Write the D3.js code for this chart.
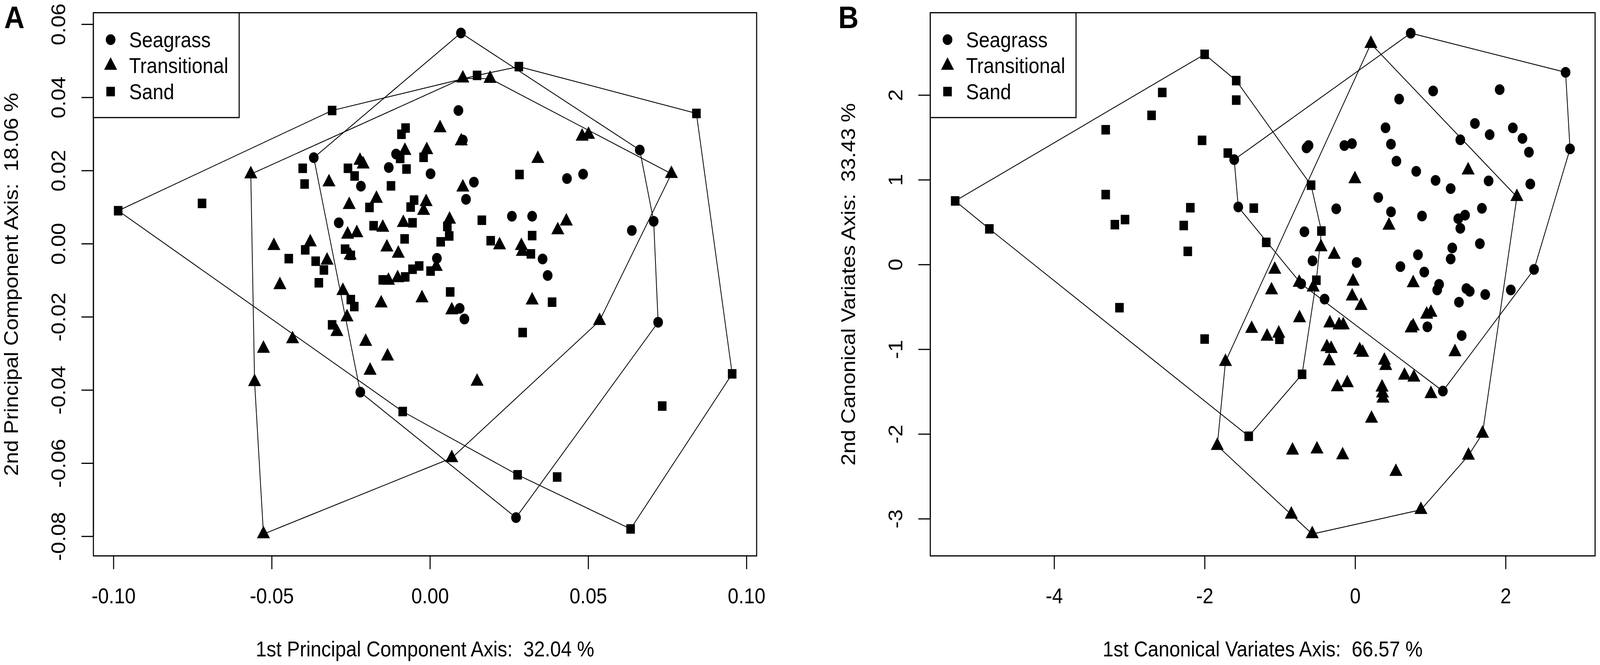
<!DOCTYPE html>
<html><head><meta charset="utf-8">
<script src="https://cdn.jsdelivr.net/npm/d3@7"></script>
<style>
html,body{margin:0;padding:0;background:#fff;width:100%;height:100%;overflow:hidden}
svg{display:block;width:100vw;height:100vh}
text{font-family:"Liberation Sans",Arial,Helvetica,sans-serif;fill:#000;white-space:pre}
</style>
</head><body>
<svg id="chart" viewBox="0 0 4550 1703" preserveAspectRatio="none"></svg>
<script>
// ---------------- DATA ----------------
const groups = ["Seagrass", "Transitional", "Sand"];

// Panel A: PCA scores [PC1, PC2]
const pcaSeagrass = [
  [0.0098,0.0576],[0.0090,0.0364],[0.0104,0.0283],[-0.0367,0.0235],[-0.0130,0.0208],[-0.0107,0.0245],
  [0.0002,0.0191],[0.0139,0.0168],[0.0114,0.0121],[-0.0218,0.0157],[-0.0288,0.0057],[0.0022,-0.0040],
  [0.0094,-0.0177],[0.0109,-0.0206],[0.0259,0.0075],[0.0323,0.0075],[0.0433,0.0178],[0.0484,0.0190],
  [0.0663,0.0256],[0.0638,0.0036],[0.0707,0.0061],[0.0721,-0.0215],[0.0356,-0.0042],[0.0372,-0.0087],
  [-0.0220,-0.0406],[0.0272,-0.0749]
];
const pcaTransitional = [
  [0.0104,0.0452],[0.0190,0.0451],[0.0481,0.0293],[0.0501,0.0298],[0.0341,0.0232],[0.0763,0.0191],
  [0.0431,0.0061],[0.0404,0.0037],[0.0220,-0.0004],[0.0289,-0.0006],[0.0292,-0.0022],[0.0323,-0.0155],
  [0.0536,-0.0211],[0.0149,-0.0377],[0.0069,-0.0586],[-0.0554,-0.0378],[-0.0526,-0.0794],[-0.0189,-0.0347],
  [-0.0566,0.0190],[0.0032,0.0316],[0.0099,0.0280],[-0.0079,0.0254],[-0.0010,0.0256],[-0.0221,0.0227],
  [-0.0211,0.0217],[-0.0319,0.0168],[0.0104,0.0154],[-0.0169,0.0123],[-0.0255,0.0106],[-0.0012,0.0114],
  [-0.0020,0.0090],[-0.0084,0.0057],[-0.0149,0.0044],[0.0062,0.0066],[-0.0260,0.0025],[-0.0231,0.0029],
  [-0.0493,-0.0006],[-0.0378,0.0004],[-0.0136,-0.0010],[-0.0100,-0.0027],[-0.0325,-0.0046],[-0.0252,-0.0032],
  [-0.0474,-0.0113],[-0.0131,-0.0101],[-0.0102,-0.0094],[0.0020,-0.0063],[-0.0275,-0.0129],[-0.0154,-0.0163],
  [-0.0025,-0.0149],[0.0069,-0.0182],[-0.0262,-0.0201],[-0.0434,-0.0261],[-0.0526,-0.0287],[-0.0294,-0.0241],
  [-0.0203,-0.0268],[-0.0134,-0.0308]
];
const pcaSand = [
  [-0.0985,0.0090],[-0.0720,0.0110],[0.0149,0.0460],[0.0281,0.0484],[0.0842,0.0356],[0.0283,0.0189],
  [0.0164,0.0064],[0.0192,0.0008],[0.0323,0.0022],[0.0319,-0.0028],[0.0386,-0.0160],[0.0293,-0.0243],
  [0.0734,-0.0444],[0.0955,-0.0356],[0.0634,-0.0780],[0.0277,-0.0632],[0.0402,-0.0638],[-0.0086,-0.0459],
  [-0.0309,0.0364],[-0.0077,0.0316],[-0.0090,0.0299],[-0.0402,0.0206],[-0.0396,0.0163],[-0.0259,0.0206],
  [-0.0238,0.0185],[-0.0020,0.0236],[-0.0094,0.0233],[-0.0074,0.0204],[-0.0123,0.0158],[-0.0191,0.0099],
  [-0.0050,0.0119],[-0.0061,0.0100],[-0.0178,0.0049],[-0.0055,0.0057],[0.0055,0.0047],[0.0061,0.0021],
  [0.0034,0.0005],[-0.0080,0.0013],[-0.0268,-0.0015],[-0.0250,-0.0032],[-0.0394,-0.0017],[-0.0446,-0.0041],
  [-0.0361,-0.0048],[-0.0335,-0.0072],[-0.0351,-0.0107],[-0.0149,-0.0099],[-0.0078,-0.0091],[-0.0055,-0.0070],
  [-0.0034,-0.0061],[0.0002,-0.0075],[0.0064,-0.0132],[-0.0250,-0.0153],[-0.0239,-0.0172],[-0.0309,-0.0222]
];

// Panel B: canonical variate scores [CV1, CV2]
const cvaSeagrass = [
  [0.739,2.730],[2.797,2.268],[2.856,1.364],[1.921,2.064],[1.037,2.048],[0.585,1.952],[0.404,1.613],
  [0.476,1.420],[0.549,1.219],[1.592,1.664],[1.788,1.532],[2.096,1.612],[2.224,1.487],[2.310,1.325],
  [1.398,1.471],[0.812,1.099],[1.069,0.992],[1.270,0.895],[1.774,0.986],[2.328,0.950],[0.477,0.621],
  [0.889,0.572],[1.685,0.663],[1.461,0.582],[1.371,0.540],[1.398,0.427],[1.291,0.195],[1.270,0.065],
  [1.658,0.246],[0.835,0.114],[0.602,-0.025],[0.919,-0.090],[1.116,-0.235],[1.091,-0.300],[1.479,-0.284],
  [1.523,-0.316],[1.729,-0.355],[2.069,-0.300],[2.378,-0.058],[1.380,-0.445],[0.960,-0.736],[1.416,-0.839],
  [1.166,-1.494],[-1.607,1.237],[-1.553,0.679],[-0.646,1.376],[-0.619,1.404],[-0.143,1.404],[-0.042,1.426],
  [0.307,0.791],[-0.251,0.657],[-0.674,0.386],[-0.566,0.043],[0.020,0.023],[-0.717,-0.228],[-0.406,-0.409]
];
const cvaTransitional = [
  [0.210,2.605],[1.502,1.112],[2.150,0.798],[-0.003,1.008],[0.450,0.460],[-0.453,0.205],[-0.278,0.116],
  [-1.068,-0.060],[-1.111,-0.303],[-0.743,-0.214],[-0.557,-0.269],[-0.027,-0.200],[-0.039,-0.376],[0.079,-0.487],
  [-0.739,-0.632],[-1.375,-0.758],[-1.170,-0.850],[-1.015,-0.814],[-0.336,-0.693],[-0.213,-0.716],[-0.158,-0.716],
  [-0.375,-0.975],[-0.318,-0.995],[-0.344,-1.140],[0.060,-1.010],[0.100,-1.040],[0.389,-1.134],[0.407,-1.196],
  [-0.236,-1.447],[-0.104,-1.399],[0.358,-1.450],[0.364,-1.520],[0.370,-1.580],[-1.723,-1.148],[-1.832,-2.139],
  [-0.832,-2.194],[-0.507,-2.181],[-0.166,-2.250],[0.218,-1.818],[0.542,-2.446],[0.772,-0.219],[0.951,-0.590],
  [1.008,-0.568],[0.745,-0.752],[0.772,-0.729],[1.327,-1.033],[0.656,-1.310],[0.781,-1.333],[1.008,-1.527],
  [1.693,-1.995],[1.506,-2.254],[0.874,-2.895],[-0.570,-3.181],[-0.848,-2.950]
];
const cvaSand = [
  [-5.315,0.750],[-4.861,0.420],[-2.000,2.480],[-1.580,2.170],[-1.580,1.940],[-2.563,2.030],[-2.705,1.760],
  [-3.315,1.590],[-2.034,1.465],[-1.692,1.315],[-0.585,0.936],[-1.347,0.665],[-2.190,0.670],[-2.278,0.460],
  [-2.224,0.155],[-3.315,0.825],[-3.193,0.470],[-3.058,0.530],[-3.132,-0.510],[-2.000,-0.880],[-1.181,0.261],
  [-0.448,0.395],[-0.515,-0.186],[-0.705,-1.296],[-1.414,-2.027],[-1.006,-0.883]
];

// axis ticks and limits
const pcaXTicks = [-0.10, -0.05, 0.00, 0.05, 0.10];
const pcaYTicks = [-0.08, -0.06, -0.04, -0.02, 0.00, 0.02, 0.04, 0.06];
const cvaXTicks = [-4, -2, 0, 2];
const cvaYTicks = [-3, -2, -1, 0, 1, 2];
const pcaXLim = [-0.10633, 0.10323];
const pcaYLim = [-0.08537, 0.06313];
const cvaXLim = [-5.646, 3.189];
const cvaYLim = [-3.439, 2.971];

// ---------------- DRAW ----------------
const svg = d3.select("#chart");
const FS = 55;
const symTypes = {Seagrass: d3.symbolCircle, Transitional: d3.symbolTriangle, Sand: d3.symbolSquare};
const SYM_SIZE = 595;

function hyphen(s){ return s.replace(/\u2212/g, "-"); }

function panel(cfg){
  const g = svg.append("g");
  const x = d3.scaleLinear().domain(cfg.xlim).range([cfg.l, cfg.r]);
  const y = d3.scaleLinear().domain(cfg.ylim).range([cfg.b, cfg.t]);

  // points
  cfg.sets.forEach((pts, i) => {
    const sym = d3.symbol().type(symTypes[groups[i]]).size(SYM_SIZE);
    g.append("g").selectAll("path").data(pts).join("path")
      .attr("d", sym)
      .attr("transform", d => `translate(${x(d[0])},${y(d[1])})`)
      .attr("fill", "#000");
  });

  // convex hulls
  cfg.sets.forEach(pts => {
    const hull = d3.polygonHull(pts.map(d => [x(d[0]), y(d[1])]));
    g.append("path")
      .attr("d", "M" + hull.map(p => p.join(",")).join("L") + "Z")
      .attr("fill", "none").attr("stroke", "#000").attr("stroke-width", 2.2)
      .attr("stroke-linejoin", "round");
  });

  // box
  g.append("rect").attr("x", cfg.l).attr("y", cfg.t)
    .attr("width", cfg.r - cfg.l).attr("height", cfg.b - cfg.t)
    .attr("fill", "none").attr("stroke", "#000").attr("stroke-width", 3);

  // axes
  const xAxis = d3.axisBottom(x).tickValues(cfg.xticks).tickSize(34).tickPadding(0)
    .tickFormat(d => hyphen(cfg.xfmt(d)));
  const ax = g.append("g").attr("transform", `translate(0,${cfg.b})`).call(xAxis);
  ax.select(".domain").attr("d", `M${x(cfg.xticks[0])},0H${x(cfg.xticks[cfg.xticks.length-1])}`)
    .attr("stroke-width", 3);
  ax.selectAll(".tick line").attr("stroke-width", 3);
  ax.selectAll(".tick text").attr("y", 121).attr("dy", null)
    .style("font-size", FS + "px").style("font-family", '"Liberation Sans",Arial,sans-serif');

  const yAxis = d3.axisLeft(y).tickValues(cfg.yticks).tickSize(34)
    .tickFormat(d => hyphen(cfg.yfmt(d)));
  const ay = g.append("g").attr("transform", `translate(${cfg.l},0)`).call(yAxis);
  ay.select(".domain").attr("d", `M0,${y(cfg.yticks[0])}V${y(cfg.yticks[cfg.yticks.length-1])}`)
    .attr("stroke-width", 3);
  ay.selectAll(".tick line").attr("stroke-width", 3);
  ay.selectAll(".tick text")
    .attr("x", null).attr("dy", null)
    .attr("text-anchor", "middle")
    .attr("transform", "translate(-80,0) rotate(-90)")
    .style("font-size", FS + "px").style("font-family", '"Liberation Sans",Arial,sans-serif');

  // axis titles
  g.append("text").attr("x", (cfg.l + cfg.r) / 2).attr("y", 1681)
    .attr("text-anchor", "middle").style("font-size", FS + "px").text(cfg.xtitle);
  g.append("text")
    .attr("transform", `translate(${cfg.l - 214},${(cfg.t + cfg.b) / 2}) rotate(-90)`)
    .attr("text-anchor", "middle").style("font-size", FS + "px").text(cfg.ytitle);

  // panel letter
  g.append("text").attr("x", cfg.letterX).attr("y", 72)
    .style("font-size", "80px").style("font-weight", "bold").text(cfg.letter);

  // legend
  const lg = g.append("g");
  lg.append("rect").attr("x", cfg.l).attr("y", cfg.t).attr("width", 414.5).attr("height", 268.5)
    .attr("fill", "#fff").attr("stroke", "#000").attr("stroke-width", 3);
  groups.forEach((name, i) => {
    const cy = 101.5 + i * 66.5;
    lg.append("path").attr("d", d3.symbol().type(symTypes[name]).size(SYM_SIZE)())
      .attr("transform", `translate(${cfg.l + 49},${cy})`).attr("fill", "#000");
    lg.append("text").attr("x", cfg.l + 101.5).attr("y", cy + 19.5)
      .style("font-size", FS + "px").text(name);
  });
}

panel({
  l: 265.6, r: 2151.7, t: 32.6, b: 1423.6,
  xlim: pcaXLim, ylim: pcaYLim, xticks: pcaXTicks, yticks: pcaYTicks,
  xfmt: d3.format(".2f"), yfmt: d3.format(".2f"),
  sets: [pcaSeagrass, pcaTransitional, pcaSand],
  xtitle: "1st Principal Component Axis:  32.04 %",
  ytitle: "2nd Principal Component Axis:  18.06 %",
  letter: "A", letterX: 12
});
panel({
  l: 2645.5, r: 4536, t: 32.6, b: 1423.6,
  xlim: cvaXLim, ylim: cvaYLim, xticks: cvaXTicks, yticks: cvaYTicks,
  xfmt: d3.format("d"), yfmt: d3.format("d"),
  sets: [cvaSeagrass, cvaTransitional, cvaSand],
  xtitle: "1st Canonical Variates Axis:  66.57 %",
  ytitle: "2nd Canonical Variates Axis:  33.43 %",
  letter: "B", letterX: 2384
});
</script>
</body></html>
